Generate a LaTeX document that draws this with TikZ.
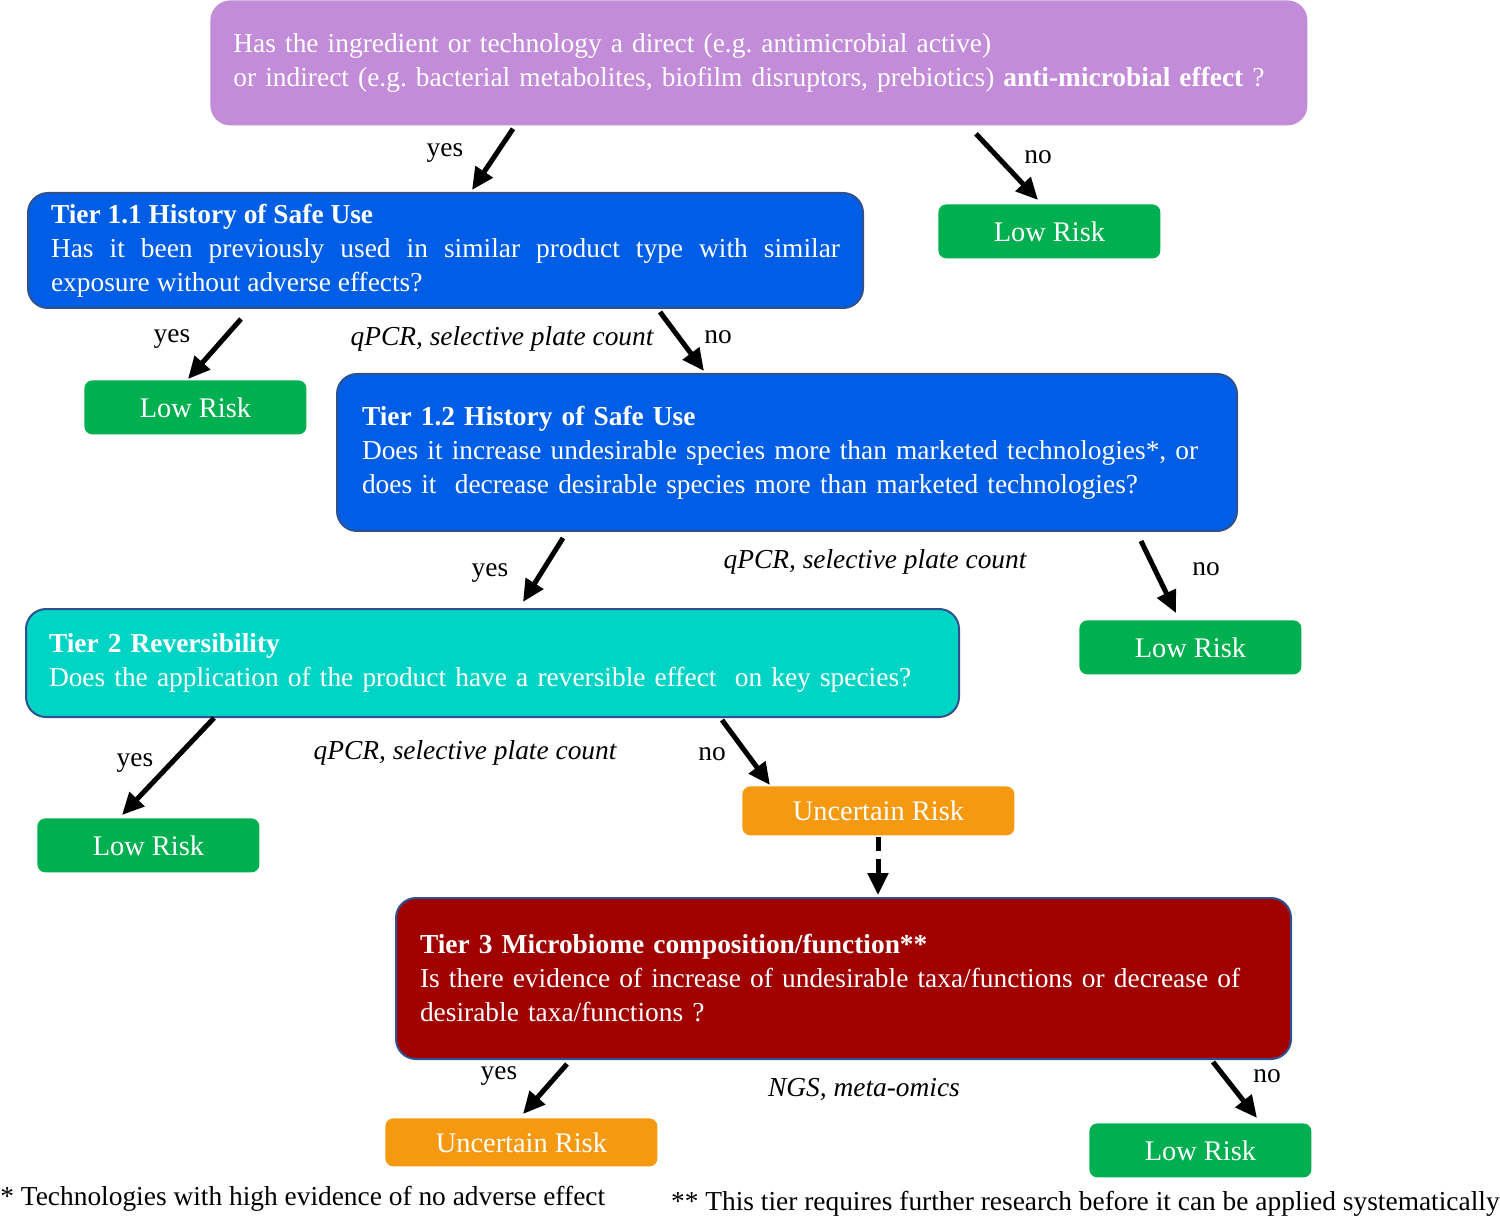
\documentclass[tikz,border=0pt]{standalone}
\usepackage{fontspec}
\setmainfont{Liberation Serif}
\usetikzlibrary{arrows.meta,calc}

\definecolor{askpurple}{HTML}{C38CD8}
\definecolor{tierblue}{HTML}{005EE6}
\definecolor{tiercyan}{HTML}{00D5C5}
\definecolor{tierred}{HTML}{A00000}
\definecolor{tierline}{HTML}{2F528F}
\definecolor{riskgreen}{HTML}{00B050}
\definecolor{riskorange}{HTML}{F59A10}

\newcommand{\bodyfont}{\fontsize{13.7}{17}\selectfont}
\frenchspacing

\tikzset{
  tierbox/.style={anchor=north west, rounded corners=10pt, text=white, align=left,
    inner xsep=11.5pt, inner ysep=0pt, font=\bodyfont},
  riskbox/.style={anchor=north west, rounded corners=4pt, text=white, inner sep=0pt,
    minimum width=111pt, minimum height=27pt, font=\fontsize{14.2}{16}\selectfont},
  arr/.style={-{Triangle[length=11pt,width=10pt]}, line width=2.5pt},
  lbl/.style={font=\bodyfont, inner sep=0pt},
  method/.style={font=\bodyfont\itshape, inner sep=0pt},
}

\begin{document}
\begin{tikzpicture}[x=0.5pt,y=-0.5pt]
    \useasboundingbox (0,0) rectangle (1500,1219);
    % Nodes
    \node[tierbox, fill=askpurple, minimum width=548.5pt, minimum height=62.5pt, text width=525.5pt] (ask) at (210,0)
      {Has the ingredient or technology a direct (e.g. antimicrobial active)\\
       or indirect (e.g. bacterial metabolites, biofilm disruptors, prebiotics) \textbf{anti-microbial effect} ?} ; %
    \node[tierbox, fill=tierblue, draw=tierline, line width=1pt, minimum width=417.5pt, minimum height=57.5pt,
      text width=394.5pt, align=justify] (tOne) at (27,192)
      {\textbf{Tier 1.1 History of Safe Use}\\
       Has it been previously used in similar product type with similar\linebreak
       exposure without adverse effects?} ; %
    \node[tierbox, fill=tierblue, draw=tierline, line width=1pt, inner xsep=12.5pt, minimum width=450pt,
      minimum height=78.5pt, text width=425pt] (tOneTwo) at (336,373)
      {\textbf{Tier 1.2 History of Safe Use}\\
       Does it increase undesirable species more than marketed technologies*, or\\
       does it\ \ decrease desirable species more than marketed technologies?} ; %
    \node[tierbox, fill=tiercyan, draw=tierline, line width=1pt, minimum width=466.5pt, minimum height=54pt,
      text width=443.5pt] (tTwo) at (25,608)
      {\textbf{Tier 2 Reversibility}\\
       Does the application of the product have a reversible effect\ \ on key species?} ; %
    \node[tierbox, fill=tierred, draw=tierline, line width=1pt, inner xsep=12pt, minimum width=447.5pt,
      minimum height=80.5pt, text width=423.5pt] (tThree) at (395,897)
      {\textbf{Tier 3 Microbiome composition/function**}\\
       Is there evidence of increase of undesirable taxa/functions or decrease of\\
       desirable taxa/functions ?} ; %
    % Outcomes
    \node[riskbox, fill=riskgreen] (lowA) at (938,204) {Low Risk} ; %
    \node[riskbox, fill=riskgreen] (lowB) at (84,380) {Low Risk} ; %
    \node[riskbox, fill=riskgreen] (lowC) at (1079,620) {Low Risk} ; %
    \node[riskbox, fill=riskgreen] (lowD) at (37,818) {Low Risk} ; %
    \node[riskbox, fill=riskgreen] (lowE) at (1089,1123) {Low Risk} ; %
    \node[riskbox, fill=riskorange, minimum width=136pt, minimum height=24.5pt] (uncA) at (742,786) {Uncertain Risk} ; %
    \node[riskbox, fill=riskorange, minimum width=136pt, minimum height=24pt] (uncB) at (385,1118) {Uncertain Risk} ; %
    % Labels
    \node[lbl] (yesA) at (445,153) {yes} ; %
    \node[lbl] (noA) at (1038,157) {no} ; %
    \node[lbl] (yesB) at (172,339) {yes} ; %
    \node[method] (mA) at (502,339) {qPCR, selective plate count} ; %
    \node[lbl] (noB) at (718,337) {no} ; %
    \node[lbl] (yesC) at (490,573) {yes} ; %
    \node[method] (mB) at (875,562) {qPCR, selective plate count} ; %
    \node[lbl] (noC) at (1206,569) {no} ; %
    \node[lbl] (yesD) at (135,763) {yes} ; %
    \node[method] (mC) at (465,753) {qPCR, selective plate count} ; %
    \node[lbl] (noD) at (712,754) {no} ; %
    \node[lbl] (yesE) at (499,1076) {yes} ; %
    \node[method] (mD) at (864,1090) {NGS, meta-omics} ; %
    \node[lbl] (noE) at (1267,1076) {no} ; %
    \node[lbl, anchor=west] (noteA) at (0,1199) {* Technologies with high evidence of no adverse effect} ; %
    \node[lbl, anchor=east] (noteB) at (1500,1204) {** This tier requires further research before it can be applied systematically} ; %
    % Edges
    \draw[arr] ($(ask.south west)+(303,3)$) -- ($(tOne.north west)+(445,-2)$) ; %
    \draw[arr] ($(ask.south west)+(766,8)$) -- ($(lowA.north west)+(100,-4)$) ; %
    \draw[arr] ($(tOne.south west)+(214,10)$) -- ($(lowB.north west)+(104,-1)$) ; %
    \draw[arr] ($(tOne.south west)+(633,3)$) -- ($(tOneTwo.north west)+(368,-2)$) ; %
    \draw[arr] ($(tOneTwo.south west)+(227,6)$) -- ($(tTwo.north west)+(498,-6)$) ; %
    \draw[arr] ($(tOneTwo.south west)+(805,9)$) -- ($(lowC.north west)+(97,-7)$) ; %
    \draw[arr] ($(tTwo.south west)+(189,0)$) -- ($(lowD.north west)+(85,-3)$) ; %
    \draw[arr] ($(tTwo.south west)+(697,2)$) -- ($(uncA.north west)+(28,-1)$) ; %
    \draw[arr, dash pattern=on 7pt off 4pt] ($(uncA.south west)+(136,1)$) -- ($(tThree.north west)+(483,-2)$) ; %
    \draw[arr] ($(tThree.south west)+(172,4)$) -- ($(uncB.north west)+(138,-4)$) ; %
    \draw[arr] ($(tThree.south west)+(818,2)$) -- ($(lowE.north west)+(168,-5)$) ; %
\end{tikzpicture}
\end{document}
